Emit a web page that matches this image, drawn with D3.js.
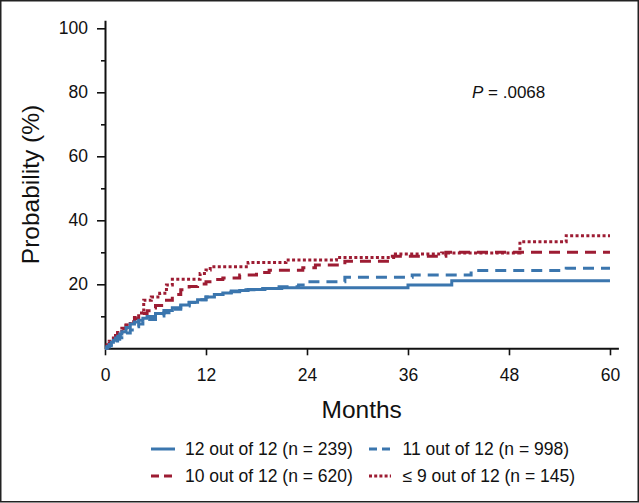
<!DOCTYPE html>
<html>
<head>
<meta charset="utf-8">
<script src="https://cdn.jsdelivr.net/npm/d3@7"></script>
<style>
  html, body { margin: 0; padding: 0; background: #fff; }
  svg { display: block; }
  text { font-family: "Liberation Sans", Arial, Helvetica, sans-serif; fill: #111; }
</style>
</head>
<body>
<svg id="chart" width="639" height="503"></svg>
<script>
// ---- data (months, cumulative probability %) ----
const xTicks = [0, 12, 24, 36, 48, 60];
const yTicksMajor = [20, 40, 60, 80, 100];
const yTicksMinor = [10, 30, 50, 70, 90];

const months12 = [0, 0.25, 0.5, 0.75, 1, 1.25, 1.5, 1.75, 2, 2.5, 3, 3.5, 4, 4.5, 5, 6, 7, 8, 9, 10, 11, 12, 13, 14, 15, 16, 17, 19, 21, 36, 41.2, 60];
const prob12   = [0, 0.6, 1.2, 1.9, 2.5, 3.2, 3.8, 4.5, 5.2, 6.5, 7.6, 8.2, 8.8, 9.4, 9.9, 10.9, 11.8, 12.7, 13.5, 14.4, 15.2, 16.0, 16.8, 17.3, 17.7, 18.1, 18.4, 18.7, 18.9, 19.8, 21.1, 21.1];

const months11 = [0, 0.25, 0.5, 0.75, 1, 1.25, 1.5, 1.75, 2, 2.5, 3, 3.5, 4, 4.5, 5, 6, 7, 8, 9, 10, 11, 12, 13, 14, 15, 16, 18, 20, 23, 24, 28.5, 36.5, 43.5, 54.8, 60];
const prob11   = [0, 0.4, 0.8, 1.3, 1.8, 2.3, 2.8, 3.3, 3.8, 4.8, 5.7, 6.7, 7.6, 8.3, 9.0, 10.1, 11.1, 12.2, 13.2, 14.3, 15.2, 16.0, 16.8, 17.4, 17.9, 18.3, 18.7, 19.2, 19.8, 20.8, 22.2, 22.9, 24.3, 25.0, 25.0];

const months10 = [0, 0.25, 0.5, 0.75, 1, 1.25, 1.5, 1.75, 2, 2.5, 3, 3.5, 4, 4.5, 5, 5.5, 6, 7, 8, 9, 10, 11, 12, 13, 14, 16, 18, 19.5, 23.5, 25, 28.5, 33.8, 40.5, 60];
const prob10   = [0, 0.8, 1.5, 2.4, 3.2, 4.0, 4.8, 5.6, 6.3, 7.3, 8.3, 9.2, 10.1, 10.9, 11.7, 12.6, 13.4, 15.0, 16.8, 18.3, 19.3, 20.1, 20.8, 21.5, 22.0, 22.9, 23.7, 24.4, 25.2, 26.0, 27.2, 28.8, 30.0, 30.0];

const months9 = [0, 0.25, 0.5, 0.75, 1, 1.5, 2, 2.5, 3, 3.5, 4, 4.6, 5.5, 6.5, 7.3, 8, 10.5, 11.3, 12, 12.5, 17, 21.5, 27.5, 34.5, 40, 49.3, 54.8, 60];
const prob9   = [0, 1.1, 2.2, 2.9, 3.6, 4.9, 6.2, 7.2, 8.3, 9.6, 11.0, 15.0, 16.0, 17.2, 19.8, 21.6, 21.6, 23.4, 24.5, 25.5, 26.8, 27.6, 28.4, 29.5, 29.8, 33.3, 35.2, 35.2];

const seriesLabels = ["12 out of 12 (n = 239)", "11 out of 12 (n = 998)", "10 out of 12 (n = 620)", "\u2264 9 out of 12 (n = 145)"];

// ---- styles ----
const BLUE = "#3b76ae", RED = "#9d1c33";
const series = [
  { label: seriesLabels[0], m: months12, p: prob12, color: BLUE, dash: null,    legDash: null },
  { label: seriesLabels[1], m: months11, p: prob11, color: BLUE, dash: "11,7",  legDash: "8,5" },
  { label: seriesLabels[2], m: months10, p: prob10, color: RED,  dash: "11,7",  legDash: "8,5" },
  { label: seriesLabels[3], m: months9,  p: prob9,  color: RED,  dash: "3,2.4", legDash: "3,2.2" }
];

const svg = d3.select("#chart");

// frame
svg.append("rect").attr("x", 0.75).attr("y", 0.75).attr("width", 637.5).attr("height", 501)
  .attr("fill", "none").attr("stroke", "#222").attr("stroke-width", 1.5);

const x = d3.scaleLinear().domain([0, 61]).range([105, 618.4]);
const y = d3.scaleLinear().domain([0, 102.5]).range([348.3, 20.3]);

// x axis
const xAxis = svg.append("g").attr("transform", `translate(0,${y(0)})`)
  .call(d3.axisBottom(x).tickValues(xTicks).tickFormat(d3.format("d")).tickSize(7).tickPadding(13).tickSizeOuter(0));
xAxis.select(".domain").attr("stroke", "#111").attr("stroke-width", 2);
xAxis.selectAll(".tick line").attr("stroke", "#111").attr("stroke-width", 1.6);
xAxis.selectAll(".tick text").style("font-size", "17.5px").attr("fill", "#111")
  .style("font-family", "'Liberation Sans', Arial, sans-serif");

// y axis major
const yAxis = svg.append("g").attr("transform", `translate(${x(0)},0)`)
  .call(d3.axisLeft(y).tickValues(yTicksMajor).tickFormat(d3.format("d")).tickSize(8).tickPadding(9).tickSizeOuter(0));
yAxis.select(".domain").attr("stroke", "#111").attr("stroke-width", 2);
yAxis.selectAll(".tick line").attr("stroke", "#111").attr("stroke-width", 1.6);
yAxis.selectAll(".tick text").style("font-size", "17.5px").attr("fill", "#111")
  .style("font-family", "'Liberation Sans', Arial, sans-serif");

// y axis minor
const yMinor = svg.append("g").attr("transform", `translate(${x(0)},0)`)
  .call(d3.axisLeft(y).tickValues(yTicksMinor).tickFormat("").tickSize(4).tickSizeOuter(0));
yMinor.select(".domain").remove();
yMinor.selectAll(".tick line").attr("stroke", "#111").attr("stroke-width", 1.6);

// curves
const line = d3.line().x(d => x(d[0])).y(d => y(d[1])).curve(d3.curveStepAfter);
const plot = svg.append("g");
series.slice().reverse().forEach(s => {
  const pts = s.m.map((mm, i) => [mm, s.p[i]]);
  plot.append("path").datum(pts)
    .attr("d", line)
    .attr("fill", "none")
    .attr("stroke", s.color)
    .attr("stroke-width", 3)
    .attr("stroke-dasharray", s.dash)
    .attr("stroke-linejoin", "miter");
});

// axis titles
svg.append("text").attr("x", (105 + 618.4) / 2).attr("y", 418)
  .attr("text-anchor", "middle").style("font-size", "24.5px").text("Months");
svg.append("text").attr("transform", `translate(39,184.5) rotate(-90)`)
  .attr("text-anchor", "middle").style("font-size", "24.5px").text("Probability (%)");

// P value
const pt = svg.append("text").attr("x", 472).attr("y", 97.5).style("font-size", "17px");
pt.append("tspan").style("font-style", "italic").text("P");
pt.append("tspan").text(" = .0068");

// legend
const legPos = [
  { lx: 151, tx: 185, ly: 449 },
  { lx: 369, tx: 402.5, ly: 449 },
  { lx: 151, tx: 185, ly: 476 },
  { lx: 369, tx: 402.5, ly: 476 }
];
const leg = svg.append("g");
series.forEach((s, i) => {
  const p = legPos[i];
  leg.append("line").attr("x1", p.lx).attr("x2", p.lx + (i === 0 ? 24 : 22))
    .attr("y1", p.ly).attr("y2", p.ly)
    .attr("stroke", s.color).attr("stroke-width", 3)
    .attr("stroke-dasharray", s.legDash);
  leg.append("text").attr("x", p.tx).attr("y", p.ly).attr("dy", "0.36em")
    .style("font-size", "17.5px").text(s.label);
});
</script>
</body>
</html>
